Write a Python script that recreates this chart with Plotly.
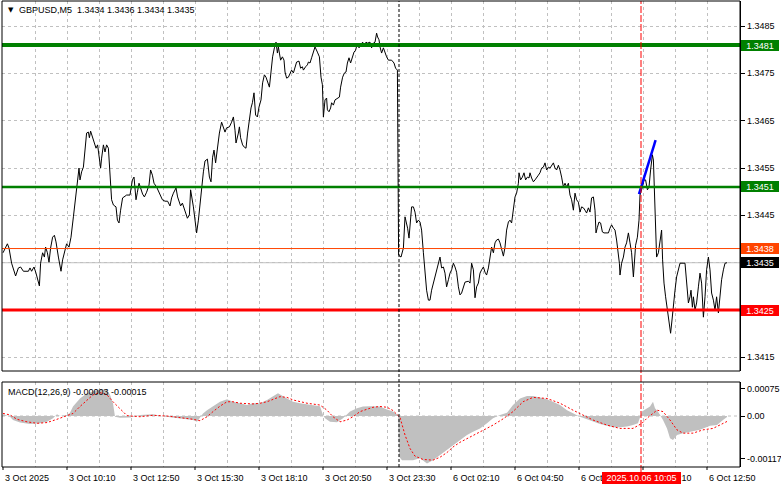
import plotly.graph_objects as go

W, H = 781, 489
def px(x):
    return x / W
def py(y):
    return 1 - y / H

# ---------------- data ----------------
# bar position (0 = 3 Oct 07:30, one bar = 5 minutes) and close price
bar_pos = [
    0.0, 2.2, 3.0, 4.3, 6.3, 7.7, 8.8, 10.2, 12.7, 13.5, 14.3, 15.5, 16.5, 17.3, 18.2, 18.8,
    19.8, 20.7, 21.3, 22.2, 23.0, 23.8, 24.8, 25.7, 26.5, 27.7, 29.0, 29.8, 31.0, 31.8, 33.0,
    34.0, 35.2, 36.3, 37.2, 38.0, 38.5, 39.3, 40.2, 41.0, 41.8, 42.7, 43.2, 43.8, 44.7, 45.5,
    46.5, 47.3, 48.2, 48.8, 49.3, 50.2, 51.0, 51.8, 52.7, 53.5, 54.3, 55.2, 56.5, 57.2, 58.0,
    58.8, 59.8, 60.5, 61.8, 63.5, 64.7, 65.5, 66.0, 66.5, 67.2, 68.0, 68.8, 69.8, 70.7, 71.8,
    73.0, 73.8, 74.7, 75.5, 76.8, 78.2, 79.7, 81.0, 82.3, 83.5, 84.3, 85.2, 86.5, 87.3, 88.2,
    88.8, 89.7, 90.5, 91.3, 92.2, 93.2, 93.8, 95.2, 96.0, 96.8, 97.7, 98.5, 99.3, 100.2, 101.0,
    102.2, 103.2, 104.0, 104.8, 105.5, 106.3, 107.2, 108.2, 109.3, 110.2, 111.0, 111.8, 113.2,
    114.3, 115.2, 116.0, 116.5, 117.7, 118.2, 118.8, 119.8, 120.7, 121.5, 122.3, 123.2, 124.0,
    124.7, 125.5, 126.3, 127.2, 128.0, 129.0, 129.8, 130.7, 131.5, 132.3, 133.2, 134.0, 134.8,
    135.7, 136.5, 137.2, 137.7, 138.2, 138.8, 139.7, 140.5, 141.0, 141.8, 142.7, 143.5, 144.3,
    145.2, 146.0, 146.8, 148.0, 148.8, 149.7, 150.2, 151.3, 152.2, 152.7, 153.5, 154.3, 155.2,
    156.0, 157.2, 158.2, 159.0, 159.7, 160.2, 161.0, 161.8, 162.2, 163.0, 163.8, 164.3, 165.2,
    166.0, 167.2, 168.2, 168.8, 169.8, 170.7, 171.5, 172.2, 173.0, 173.8, 174.7, 175.5, 176.3,
    177.2, 178.0, 178.8, 179.8, 180.7, 181.5, 182.3, 183.5, 184.3, 185.2, 186.0, 186.8, 187.3,
    188.0, 188.5, 189.3, 190.2, 191.0, 191.8, 192.7, 194.3, 195.5, 196.3, 197.2,
    197.8, 199.0, 199.7, 200.2, 201.0, 201.8, 202.3, 203.0, 203.5, 204.3, 205.2, 206.0, 206.8,
    207.7, 208.5, 209.3, 210.2, 211.0, 211.8, 212.7, 213.5, 214.3, 215.2, 216.0, 216.8, 217.7,
    218.5, 219.3, 220.2, 221.0, 221.8, 222.7, 223.5, 224.3, 225.2, 226.0, 226.8, 227.7, 228.5,
    229.3, 230.2, 231.0, 232.7, 233.5, 234.3, 235.2, 236.0, 236.8, 237.7, 238.5, 239.3, 240.2,
    241.0, 241.8, 242.7, 243.5, 244.3, 245.2, 246.0, 246.8, 247.7, 248.5, 249.3, 250.2, 251.0,
    251.8, 252.7, 253.5, 254.3, 255.2, 256.0, 256.8, 257.7, 258.0, 258.8, 259.7, 260.5, 261.3,
    262.2, 263.0, 263.5, 264.3, 265.2, 266.0, 266.8, 267.7, 268.5, 269.3, 270.2, 271.0, 271.8,
    272.7, 273.5, 274.3, 275.2, 276.0, 276.8, 277.7, 278.5, 279.3, 280.2, 281.0, 281.8, 282.7,
    283.5, 284.3, 285.2, 286.0, 286.8, 287.7, 288.5, 289.3, 290.2, 291.0, 291.8, 292.7, 293.5,
    294.3, 295.2, 296.0, 296.5, 297.2, 298.0, 298.8, 299.7, 300.5, 302.7, 303.5, 304.3, 305.2,
    306.0, 306.8, 307.7, 308.2, 308.5, 309.3, 310.2, 311.0, 311.8, 312.7, 313.5, 314.3, 315.2,
    315.7, 316.3, 317.2, 318.0, 318.5, 319.0, 319.7, 320.5, 321.3, 322.2, 323.0, 323.8, 324.7,
    325.2, 325.7, 326.2, 326.8, 327.7, 328.5, 329.0, 329.3, 329.8, 330.5, 331.3, 332.2, 333.0,
    333.8, 334.5, 335.2, 336.0, 336.8, 337.7, 338.5, 341.0, 341.8, 342.7, 343.5, 344.0, 344.7,
    345.2, 346.0, 346.8, 347.7, 348.5, 349.3, 350.2, 351.0, 351.8, 352.7, 353.5, 354.3, 355.2,
    356.0, 356.8, 357.7, 358.5, 359.3, 360.2, 361.0, 362.0,
]
close = [
    1.34371, 1.34390, 1.34381, 1.34349, 1.34322, 1.34339, 1.34341, 1.34332, 1.34332, 1.34339,
    1.34332, 1.34341, 1.34328, 1.34316, 1.34301, 1.34349, 1.34371, 1.34362, 1.34383, 1.34371,
    1.34351, 1.34381, 1.34404, 1.34408, 1.34394, 1.34362, 1.34332, 1.34356, 1.34377, 1.34390,
    1.34383, 1.34404, 1.34447, 1.34483, 1.34518, 1.34550, 1.34525, 1.34542, 1.34552, 1.34594,
    1.34624, 1.34626, 1.34614, 1.34628, 1.34616, 1.34609, 1.34592, 1.34599, 1.34561, 1.34550,
    1.34571, 1.34599, 1.34584, 1.34599, 1.34592, 1.34525, 1.34483, 1.34472, 1.34468, 1.34440,
    1.34434, 1.34461, 1.34487, 1.34489, 1.34493, 1.34493, 1.34525, 1.34531, 1.34499, 1.34483,
    1.34499, 1.34518, 1.34508, 1.34495, 1.34489, 1.34499, 1.34514, 1.34546, 1.34535, 1.34518,
    1.34510, 1.34497, 1.34483, 1.34480, 1.34480, 1.34470, 1.34487, 1.34497, 1.34508, 1.34489,
    1.34476, 1.34470, 1.34476, 1.34466, 1.34457, 1.34444, 1.34451, 1.34504, 1.34468, 1.34440,
    1.34413, 1.34440, 1.34476, 1.34510, 1.34542, 1.34565, 1.34569, 1.34531, 1.34521, 1.34573,
    1.34588, 1.34561, 1.34594, 1.34624, 1.34647, 1.34637, 1.34626, 1.34635, 1.34637, 1.34647,
    1.34658, 1.34630, 1.34603, 1.34624, 1.34637, 1.34614, 1.34599, 1.34594, 1.34592, 1.34624,
    1.34656, 1.34677, 1.34688, 1.34709, 1.34662, 1.34658, 1.34679, 1.34694, 1.34730, 1.34747,
    1.34742, 1.34732, 1.34721, 1.34753, 1.34785, 1.34804, 1.34816, 1.34793, 1.34806, 1.34793,
    1.34778, 1.34785, 1.34778, 1.34753, 1.34740, 1.34742, 1.34751, 1.34757, 1.34751, 1.34761,
    1.34774, 1.34776, 1.34761, 1.34764, 1.34757, 1.34764, 1.34768, 1.34774, 1.34772, 1.34783,
    1.34793, 1.34806, 1.34795, 1.34785, 1.34742, 1.34726, 1.34658, 1.34694, 1.34698, 1.34673,
    1.34669, 1.34677, 1.34688, 1.34683, 1.34694, 1.34698, 1.34700, 1.34721, 1.34742, 1.34751,
    1.34753, 1.34772, 1.34783, 1.34772, 1.34785, 1.34795, 1.34799, 1.34814, 1.34804, 1.34810,
    1.34816, 1.34810, 1.34816, 1.34814, 1.34816, 1.34804, 1.34814, 1.34816, 1.34835, 1.34827,
    1.34821, 1.34806, 1.34793, 1.34804, 1.34793, 1.34785, 1.34778, 1.34778, 1.34772, 1.34761,
    1.34757,
    1.34366, 1.34362, 1.34371, 1.34381, 1.34447, 1.34434, 1.34423, 1.34402, 1.34425, 1.34468,
    1.34468, 1.34457, 1.34434, 1.34440, 1.34436, 1.34419, 1.34371, 1.34328, 1.34292, 1.34271,
    1.34271, 1.34292, 1.34307, 1.34320, 1.34335, 1.34349, 1.34362, 1.34339, 1.34341, 1.34328,
    1.34299, 1.34314, 1.34328, 1.34335, 1.34349, 1.34341, 1.34330, 1.34299, 1.34282, 1.34286,
    1.34299, 1.34309, 1.34311, 1.34307, 1.34349, 1.34335, 1.34276, 1.34299, 1.34307, 1.34328,
    1.34335, 1.34341, 1.34330, 1.34324, 1.34339, 1.34360, 1.34383, 1.34371, 1.34392, 1.34398,
    1.34400, 1.34392, 1.34381, 1.34364, 1.34383, 1.34419, 1.34436, 1.34440, 1.34434, 1.34468,
    1.34489, 1.34497, 1.34518, 1.34540, 1.34525, 1.34531, 1.34540, 1.34525, 1.34531, 1.34529,
    1.34540, 1.34529, 1.34521, 1.34525, 1.34531, 1.34535, 1.34540, 1.34550, 1.34552, 1.34561,
    1.34546, 1.34552, 1.34550, 1.34556, 1.34561, 1.34550, 1.34546, 1.34556, 1.34546, 1.34531,
    1.34510, 1.34518, 1.34510, 1.34518, 1.34493, 1.34483, 1.34461, 1.34497, 1.34483, 1.34478,
    1.34457, 1.34468, 1.34466, 1.34461, 1.34455, 1.34466, 1.34457, 1.34487, 1.34489, 1.34461,
    1.34413, 1.34425, 1.34436, 1.34434, 1.34415, 1.34413, 1.34413, 1.34423, 1.34430, 1.34423,
    1.34419, 1.34398, 1.34371, 1.34349, 1.34324, 1.34349, 1.34362, 1.34383, 1.34392, 1.34413,
    1.34392, 1.34371, 1.34320, 1.34362, 1.34387, 1.34404, 1.34440, 1.34493, 1.34499, 1.34510,
    1.34525, 1.34525, 1.34504, 1.34510, 1.34546, 1.34578, 1.34567, 1.34510, 1.34419, 1.34362,
    1.34371, 1.34398, 1.34413, 1.34419, 1.34356, 1.34307, 1.34278, 1.34250, 1.34223, 1.34201,
    1.34229, 1.34265, 1.34292, 1.34320, 1.34335, 1.34349, 1.34349, 1.34314, 1.34265, 1.34278,
    1.34292, 1.34256, 1.34278, 1.34250, 1.34265, 1.34299, 1.34328, 1.34307, 1.34235, 1.34278,
    1.34335, 1.34362, 1.34335, 1.34286, 1.34271, 1.34250, 1.34278, 1.34244, 1.34286, 1.34314,
    1.34335, 1.34349, 1.34350,
]

# MACD(12,26,9) histogram (main line) and signal line
hist_bars = [
    0.0, 3.5, 5.0, 8.5, 13.5, 18.5, 22.0, 25.0, 27.0, 28.5, 32.0, 33.5, 35.0, 37.0, 38.5, 42.0,
    45.0, 48.5, 52.0, 53.5, 55.0, 56.0, 58.5, 63.5, 68.5, 75.0, 78.5, 85.0, 91.0, 95.0, 97.0,
    98.5, 100.0, 102.0, 105.0, 108.5, 112.0, 115.0, 118.5, 122.0, 125.0, 128.5, 132.0, 135.0,
    137.5, 142.0, 145.0, 148.5, 155.0, 158.5, 160.0, 161.0, 163.5, 167.0, 170.0, 173.5, 177.0,
    180.0, 183.5, 188.5, 192.0, 195.0, 197.5, 198.0, 199.5, 202.0, 205.0, 208.5, 212.0, 215.0,
    218.5, 222.0, 225.0, 228.5, 232.0, 235.0, 238.5, 242.0, 245.0, 248.5, 252.0, 255.0, 258.5,
    262.0, 265.0, 268.5, 272.0, 275.0, 278.5, 282.0, 285.0, 288.5, 292.0, 295.0, 298.5, 302.0,
    305.0, 308.5, 312.0, 315.0, 317.5, 319.5, 322.0, 323.5, 325.0, 326.0, 327.5, 330.0, 332.0,
    333.5, 335.0, 337.0, 340.0, 343.5, 348.5, 353.5, 357.0, 360.0, 362.0,
]
hist_vals = [
    0.00005, -0.00002, -0.00011, -0.00018, -0.00022, -0.00020, -0.00016, -0.00006, 0.00005,
    0.00000, 0.00003, 0.00009, 0.00026, 0.00039, 0.00048, 0.00062, 0.00067, 0.00073, 0.00071,
    0.00058, 0.00035, -0.00002, -0.00005, -0.00004, 0.00003, 0.00005, 0.00000, -0.00004,
    -0.00008, -0.00011, -0.00016, -0.00006, 0.00007, 0.00016, 0.00026, 0.00039, 0.00046,
    0.00039, 0.00035, 0.00030, 0.00035, 0.00035, 0.00044, 0.00053, 0.00062, 0.00048, 0.00039,
    0.00035, 0.00030, 0.00027, 0.00003, -0.00006, -0.00016, -0.00017, -0.00006, 0.00012,
    0.00021, 0.00026, 0.00027, 0.00026, 0.00018, 0.00012, 0.00003, -0.00111, -0.00121,
    -0.00121, -0.00121, -0.00116, -0.00130, -0.00121, -0.00107, -0.00093, -0.00079, -0.00066,
    -0.00052, -0.00043, -0.00034, -0.00020, -0.00006, 0.00003, 0.00009, 0.00030, 0.00048,
    0.00055, 0.00055, 0.00051, 0.00046, 0.00039, 0.00030, 0.00016, 0.00007, -0.00002, -0.00009,
    -0.00016, -0.00022, -0.00027, -0.00031, -0.00031, -0.00029, -0.00025, -0.00020, 0.00012,
    0.00021, 0.00026, 0.00039, 0.00021, 0.00012, -0.00011, -0.00034, -0.00061, -0.00066,
    -0.00052, -0.00047, -0.00043, -0.00038, -0.00027, -0.00025, -0.00011, -0.00003,
]
signal_bars = [
    0.0, 3.5, 7.0, 12.0, 17.0, 22.0, 27.0, 32.0, 35.0, 38.5, 42.0, 45.0, 48.5, 52.0, 55.0, 58.5,
    62.0, 68.5, 75.0, 82.0, 88.5, 95.0, 98.5, 102.0, 105.0, 108.5, 112.0, 115.0, 118.5, 125.0,
    128.5, 132.0, 138.5, 142.0, 145.0, 152.0, 158.5, 162.0, 165.0, 168.5, 172.0, 175.0, 178.5,
    182.0, 185.0, 188.5, 192.0, 195.0, 198.5, 201.0, 203.5, 206.0, 210.0, 215.0, 218.5, 222.0,
    225.0, 228.5, 232.0, 238.5, 245.0, 250.0, 255.0, 260.0, 265.0, 272.0, 278.5, 285.0, 288.5,
    295.0, 302.0, 308.5, 315.0, 319.5, 322.0, 327.0, 330.0, 333.5, 337.0, 340.0, 345.0, 350.0,
    355.0, 360.0, 362.0,
]
signal_vals = [
    0.00007, 0.00003, -0.00009, -0.00016, -0.00020, -0.00018, -0.00009, 0.00000, 0.00007,
    0.00026, 0.00044, 0.00058, 0.00064, 0.00058, 0.00039, 0.00021, 0.00001, -0.00002, 0.00002,
    0.00000, -0.00004, -0.00009, -0.00013, -0.00002, 0.00012, 0.00027, 0.00039, 0.00039,
    0.00035, 0.00033, 0.00035, 0.00039, 0.00053, 0.00051, 0.00044, 0.00035, 0.00030, 0.00016,
    -0.00002, -0.00016, -0.00011, -0.00002, 0.00012, 0.00018, 0.00024, 0.00026, 0.00024,
    0.00015, -0.00004, -0.00052, -0.00089, -0.00110, -0.00119, -0.00121, -0.00113, -0.00100,
    -0.00085, -0.00072, -0.00062, -0.00045, -0.00025, -0.00008, 0.00012, 0.00039, 0.00051,
    0.00048, 0.00035, 0.00016, 0.00007, -0.00011, -0.00025, -0.00034, -0.00034, -0.00020,
    -0.00006, 0.00016, 0.00012, -0.00011, -0.00038, -0.00047, -0.00047, -0.00038, -0.00034,
    -0.00020, -0.00015,
]

# trend line drawn on the chart (blue)
trend_bars = [318.0, 326.3]
trend_prices = [1.34495, 1.34609]

# horizontal levels
level_prices = [1.3481, 1.3451, 1.3438, 1.3425]
level_colors = ["#008000", "#008000", "#ff4500", "#ff0000"]
level_widths = [4, 2.5, 1, 3]
bid_price = 1.3435

# axis labels
price_ticks = [1.3415, 1.3425, 1.3435, 1.3445, 1.3455, 1.3465, 1.3475, 1.3485]
price_tick_labels = ["1.3485", "1.3475", "1.3465", "1.3455", "1.3445", "1.3415"]
price_tick_label_vals = [1.3485, 1.3475, 1.3465, 1.3455, 1.3445, 1.3415]
macd_tick_vals = [0.00075, 0.0, -0.00117]
macd_tick_labels = ["0.00075", "0.00", "-0.00117"]
time_label_bars = [0, 32, 64, 96, 128, 160, 192, 224, 256, 288, 320, 352]
time_labels = ["3 Oct 2025", "3 Oct 10:10", "3 Oct 12:50", "3 Oct 15:30", "3 Oct 18:10",
               "3 Oct 20:50", "3 Oct 23:30", "6 Oct 02:10", "6 Oct 04:50", "6 Oct 07:30",
               "6 Oct 10:10", "6 Oct 12:50"]
grid_bars = list(range(16, 353, 16))
separator_bar = 198      # 6 Oct 00:00 period separator
cursor_bar = 319         # 2025.10.06 10:05
cursor_label = "2025.10.06 10:05"
header = "GBPUSD,M5\u00a0\u00a01.3434 1.3436 1.3434 1.3435"
macd_title = "MACD(12,26,9) -0.00003 -0.00015"

FONT = "Liberation Sans"
FS = 9

# ---------------- figure ----------------
fig = go.Figure()
fig.add_trace(go.Scatter(x=hist_bars, y=hist_vals, mode="lines", fill="tozeroy",
                         fillcolor="#c0c0c0", line=dict(width=0, color="#c0c0c0"),
                         xaxis="x2", yaxis="y2", hoverinfo="skip"))
fig.add_trace(go.Scatter(x=signal_bars, y=signal_vals, mode="lines",
                         line=dict(color="#ff0000", width=1, dash="2px,2px"),
                         xaxis="x2", yaxis="y2", hoverinfo="skip"))
fig.add_trace(go.Scatter(x=bar_pos, y=close, mode="lines",
                         line=dict(color="#000000", width=1),
                         xaxis="x", yaxis="y", hoverinfo="skip"))
fig.add_trace(go.Scatter(x=trend_bars, y=trend_prices, mode="lines",
                         line=dict(color="#0000ff", width=2.5),
                         xaxis="x", yaxis="y", hoverinfo="skip"))

x_range = [-0.5, 368.5]
main_top, main_bot = 1, 371
macd_top, macd_bot = 382, 467
y_hi = 1.349051 - 0.0000211278 * main_top
y_lo = 1.349051 - 0.0000211278 * main_bot
m_hi = (416 - macd_top) / 36500
m_lo = (416 - macd_bot) / 36500

grid = dict(showgrid=True, gridcolor="#c0c0c0", griddash="3px,3px", gridwidth=1)
fig.update_layout(
    width=W, height=H, margin=dict(l=0, r=0, t=0, b=0),
    paper_bgcolor="white", plot_bgcolor="white", showlegend=False,
    xaxis=dict(domain=[px(2), px(740)], range=x_range, anchor="y", tickmode="array",
               tickvals=grid_bars, showticklabels=False, ticks="", zeroline=False, **grid),
    xaxis2=dict(domain=[px(2), px(740)], range=x_range, anchor="y2", tickmode="array",
                tickvals=grid_bars, showticklabels=False, ticks="", zeroline=False, **grid),
    yaxis=dict(domain=[py(main_bot), py(main_top)], range=[y_lo, y_hi], anchor="x",
               side="right", tickmode="array", tickvals=price_ticks, showticklabels=False,
               ticks="outside", ticklen=4, tickcolor="black", zeroline=False,
               showline=True, linecolor="black", linewidth=1, **grid),
    yaxis2=dict(domain=[py(macd_bot), py(macd_top)], range=[m_lo, m_hi], anchor="x2",
                side="right", tickmode="array", tickvals=macd_tick_vals,
                showticklabels=False, ticks="outside", ticklen=4, tickcolor="black",
                zeroline=False, showgrid=False, showline=True, linecolor="black", linewidth=1),
)

shapes = []
# zero line of MACD
shapes.append(dict(type="line", xref="x2 domain", x0=0, x1=1, yref="y2", y0=0, y1=0,
                   line=dict(color="#c0c0c0", width=1, dash="3px,3px"), layer="below"))
# bid line
shapes.append(dict(type="line", xref="x domain", x0=0, x1=1, yref="y", y0=bid_price,
                   y1=bid_price, line=dict(color="#c0c0c0", width=1), layer="below"))
# level lines
for p, c, w in zip(level_prices, level_colors, level_widths):
    shapes.append(dict(type="line", xref="x domain", x0=0, x1=1, yref="y", y0=p, y1=p,
                       line=dict(color=c, width=w), layer="above"))
# period separator and cursor
shapes.append(dict(type="line", xref="x", x0=separator_bar, x1=separator_bar, yref="paper",
                   y0=py(macd_bot), y1=py(main_top),
                   line=dict(color="black", width=1, dash="3px,2px"), layer="above"))
shapes.append(dict(type="line", xref="x", x0=cursor_bar, x1=cursor_bar, yref="paper",
                   y0=py(472), y1=py(main_top),
                   line=dict(color="#ff0000", width=1, dash="7px,2px"), layer="above"))
# panel frames
for t, b in [(main_top, main_bot), (macd_top, macd_bot)]:
    shapes.append(dict(type="rect", xref="paper", yref="paper", x0=px(2), x1=px(740),
                       y0=py(b), y1=py(t), line=dict(color="black", width=1),
                       fillcolor="rgba(0,0,0,0)", layer="above"))
# time-axis ticks
for b in time_label_bars:
    shapes.append(dict(type="line", xref="x2", x0=b, x1=b, yref="paper", y0=py(467),
                       y1=py(470), line=dict(color="black", width=1)))
fig.update_layout(shapes=shapes)

ann = []
def txt(x, y, s, xref="paper", yref="paper", anchor="left", color="black", **kw):
    ann.append(dict(x=x, y=y, xref=xref, yref=yref, text=s, showarrow=False,
                    xanchor=anchor, yanchor="middle",
                    font=dict(family=FONT, size=FS, color=color), **kw))

# header
ann.append(dict(x=px(6), y=py(10), xref="paper", yref="paper", text="\u25bc", showarrow=False,
                xanchor="left", yanchor="middle",
                font=dict(family="DejaVu Sans", size=7, color="black")))
txt(px(17), py(10.5), header)
txt(px(6), py(391.5), macd_title)

# price labels
for v, s in zip(price_tick_label_vals, price_tick_labels):
    txt(px(745), v, s, yref="y")
box_vals = [1.3481, 1.3451, 1.3438, bid_price, 1.3425]
box_cols = ["#008000", "#008000", "#ff4500", "#000000", "#ff0000"]
for v, c in zip(box_vals, box_cols):
    txt(px(741), v, f"{v:.4f}", yref="y", color="white", bgcolor=c, width=34, height=7,
        borderpad=2, borderwidth=0, align="center")
# MACD labels
for v, s in zip(macd_tick_vals, macd_tick_labels):
    txt(px(745), v, s, yref="y2")
# time labels
for b, s in zip(time_label_bars, time_labels):
    txt(b, py(478), s, xref="x2")
# cursor label (drawn over the time labels, as in the terminal)
txt(cursor_bar, py(477.5), cursor_label, xref="x2", anchor="center", color="white",
    bgcolor="#ff0000", width=75, height=8, borderpad=2, borderwidth=0, align="center")

fig.update_layout(annotations=ann)
fig.write_html(
    "out.html",
    config={"displayModeBar": False},
    post_script="document.body.style.margin='0';document.body.style.overflow='hidden';",
)
